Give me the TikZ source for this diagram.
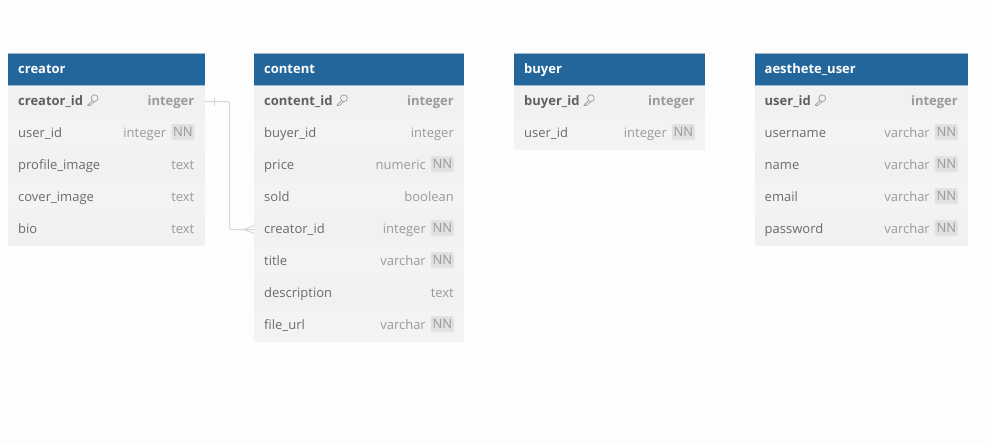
\documentclass[tikz,border=0pt]{standalone}
\usepackage{fontspec}
\setmainfont{Open Sans}
\definecolor{pagebg}{HTML}{FDFDFD}
\definecolor{headbg}{HTML}{23669C}
\definecolor{headedge}{HTML}{9DBBD3}
\definecolor{rowa}{HTML}{F1F1F1}
\definecolor{rowb}{HTML}{F3F3F3}
\definecolor{nametxt}{HTML}{6B6B6B}
\definecolor{typetxt}{HTML}{9A9A9A}
\definecolor{nnbg}{HTML}{E1E1E1}
\definecolor{linkc}{HTML}{D6D6D6}
\tikzset{
  headbox/.style={fill=headbg,anchor=north west,minimum height=32pt,inner sep=0pt,outer sep=0pt},
  rowbox/.style={anchor=north west,minimum height=32pt,inner sep=0pt,outer sep=0pt},
  titletxt/.style={anchor=base west,text=white,font=\fontsize{13}{15}\selectfont\bfseries,inner sep=0pt},
  fieldtxt/.style={anchor=base west,text=nametxt,font=\fontsize{13}{15}\selectfont,inner sep=0pt},
  pktxt/.style={anchor=base west,text=nametxt!90!black,font=\fontsize{13}{15}\selectfont\bfseries,inner sep=0pt},
  typelab/.style={anchor=base east,text=typetxt,font=\fontsize{13}{15}\selectfont,inner sep=0pt},
  pktype/.style={anchor=base east,text=typetxt,font=\fontsize{13}{15}\selectfont\bfseries,inner sep=0pt},
  nnbox/.style={anchor=east,fill=nnbg,rounded corners=1.5pt,text=typetxt,font=\fontsize{13}{15}\selectfont,inner sep=0pt,minimum width=23pt,minimum height=16pt},
  keyicon/.style={draw=typetxt,line width=0.7pt},
  linkline/.style={draw=linkc,line width=1pt,rounded corners=2pt},
  linktick/.style={draw=linkc,line width=1pt},
}
% \ertable{id}{x}{width}{title}
\newcommand{\ertable}[4]{%
  \node[headbox,minimum width=#3pt] (#1) at (#2,-53.5) {};
  \draw[headedge,line width=0.8pt] (#2,-53.5) -- ++(#3,0);
  \draw[headedge,line width=0.6pt] (#2,-85.5) -- ++(#3,0);
  \node[titletxt] (#1title) at (#2+10,-73) {#4};
  \def\curx{#2}\def\curw{#3}\def\curid{#1}%
}
% \errowbg{row number}
\newcommand{\errowbg}[1]{%
  \pgfmathsetmacro{\rowtop}{-85.5-32*(#1-1)}%
  \pgfmathsetmacro{\rowbase}{\rowtop-19.5}%
  \pgfmathparse{int(mod(#1,2))}%
  \ifnum\pgfmathresult=1 \def\rowfill{rowa}\else\def\rowfill{rowb}\fi
  \node[rowbox,fill=\rowfill,minimum width=\curw pt] (\curid row#1) at (\curx,\rowtop) {};
}
% primary key row
\newcommand{\erpk}[3]{%
  \errowbg{#1}
  \node[pktxt] (\curid name#1) at (\curx+10,\rowbase) {#2};
  \begin{scope}[shift={(\curid name#1.base east)},xshift=4pt,keyicon]
    \draw (7.2,6.8) circle (3.4pt);
    \draw (4.8,4.4) -- (0.4,0) -- (0.4,-0.4) -- (2.6,-0.4) -- (7,3.4);
  \end{scope}
  \node[pktype] (\curid type#1) at (\curx+\curw-10,\rowbase) {#3};
}
% plain row
\newcommand{\erfield}[3]{%
  \errowbg{#1}
  \node[fieldtxt] (\curid name#1) at (\curx+10,\rowbase) {#2};
  \node[typelab] (\curid type#1) at (\curx+\curw-10,\rowbase) {#3};
}
% not-null row
\newcommand{\ernn}[3]{%
  \errowbg{#1}
  \node[fieldtxt] (\curid name#1) at (\curx+10,\rowbase) {#2};
  \node[nnbox] (\curid nn#1) at (\curx+\curw-10,\rowtop-14.5) {NN};
  \node[typelab] (\curid type#1) at (\curx+\curw-38,\rowbase) {#3};
}
\begin{document}
\begin{tikzpicture}[x=1pt,y=1pt]
\useasboundingbox (0,0) rectangle (986,-445);
\fill[pagebg] (0,0) rectangle (986,-445);

\ertable{creator}{8}{196.5}{creator}
\erpk{1}{creator\_id}{integer}
\ernn{2}{user\_id}{integer}
\erfield{3}{profile\_image}{text}
\erfield{4}{cover\_image}{text}
\erfield{5}{bio}{text}

\ertable{content}{254}{210}{content}
\erpk{1}{content\_id}{integer}
\erfield{2}{buyer\_id}{integer}
\ernn{3}{price}{numeric}
\erfield{4}{sold}{boolean}
\ernn{5}{creator\_id}{integer}
\ernn{6}{title}{varchar}
\erfield{7}{description}{text}
\ernn{8}{file\_url}{varchar}

\ertable{buyer}{514}{191}{buyer}
\erpk{1}{buyer\_id}{integer}
\ernn{2}{user\_id}{integer}

\ertable{auser}{754.5}{213.5}{aesthete\_user}
\erpk{1}{user\_id}{integer}
\ernn{2}{username}{varchar}
\ernn{3}{name}{varchar}
\ernn{4}{email}{varchar}
\ernn{5}{password}{varchar}

\coordinate (bend) at (229.5,0);
\draw[linkline] (creatorrow1.east) -- (bend |- creatorrow1.east) -- (bend |- contentrow5.west) -- (contentrow5.west);
\draw[linktick] ([xshift=10pt,yshift=-4pt]creatorrow1.east) -- ([xshift=10pt,yshift=4pt]creatorrow1.east);
\draw[linktick] ([xshift=-10pt]contentrow5.west) -- ([yshift=4pt]contentrow5.west);
\draw[linktick] ([xshift=-10pt]contentrow5.west) -- ([yshift=-4pt]contentrow5.west);
\end{tikzpicture}
\end{document}
